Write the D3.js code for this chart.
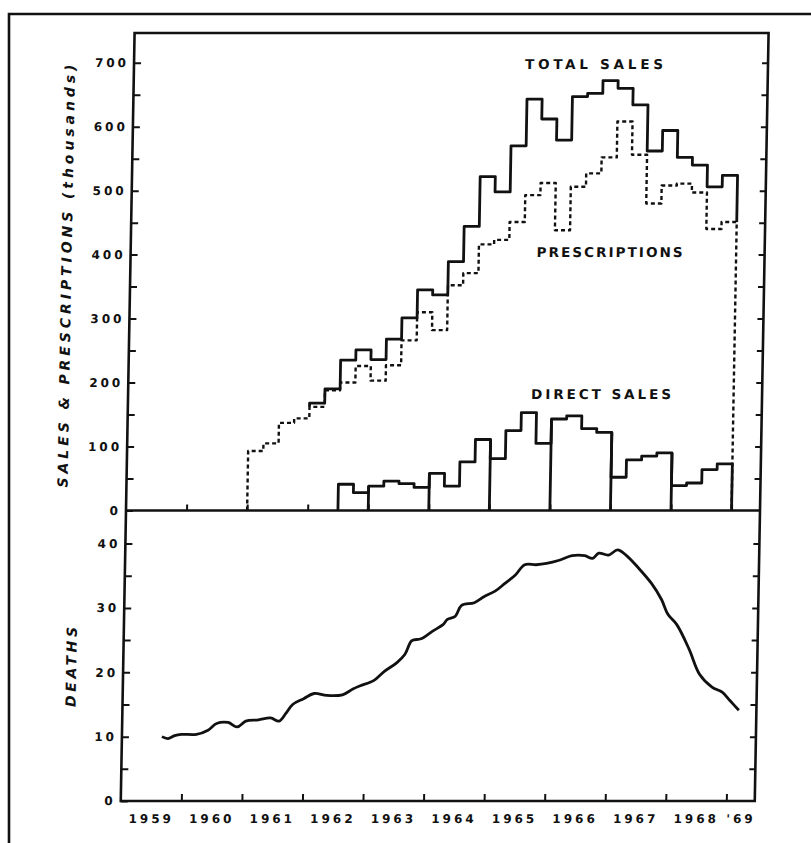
<!DOCTYPE html>
<html>
<head>
<meta charset="utf-8">
<title>Sales, prescriptions and deaths 1959-1969</title>
<script src="https://cdn.jsdelivr.net/npm/d3@7"></script>
<style>
    body {
        margin: 0;
        background: #fff;
    }

    svg {
        display: block;
    }

    text {
        font-family: 'DejaVu Sans', sans-serif;
        font-weight: bold;
        fill: #111;
    }

    .axis text {
        font-size: 12px;
        letter-spacing: 3px;
    }

    .axis line {
        stroke: #111;
        stroke-width: 2px;
    }

    .axis path {
        display: none;
    }

    .frame {
        fill: none;
        stroke: #111;
        stroke-width: 2.6px;
    }

    .line {
        fill: none;
        stroke: #111;
        stroke-width: 2.8px;
        stroke-linejoin: round;
    }

    .dashed {
        stroke-width: 2.4px;
        stroke-dasharray: 4 3;
    }

    .title {
        font-size: 14px;
        font-style: italic;
    }

    .note {
        font-size: 13.5px;
    }
</style>
</head>

<body>
<script>
    "use strict";

    // quarterly values, thousands
    const prescStart = 1961;
    const prescriptions = [93, 105, 137, 144,
        162, 188, 200, 226,
        203, 227, 266, 310,
        282, 352, 371, 416,
        423, 451, 493, 512,
        438, 506, 527, 552,
        608, 556, 480, 508,
        511, 497, 440, 451];

    const totalStart = 1962;
    const totalSales = [168, 190, 235, 251,
        236, 268, 301, 345,
        337, 389, 444, 522,
        498, 570, 643, 612,
        579, 647, 652, 672,
        660, 634, 562, 594,
        552, 540, 506, 524];

    const directStart = 1962.5;
    const directSales = [41, 28,
        38, 46, 42, 36,
        58, 38, 76, 111,
        81, 125, 153, 105,
        143, 148, 128, 122,
        52, 79, 85, 90,
        39, 43, 64, 73];
    const directDividers = [1963, 1964, 1965, 1966, 1967, 1968];

    // deaths
    const deathTimes = [1959.66, 1959.76, 1959.87, 1959.98, 1960.23, 1960.42, 1960.56, 1960.75,
        1960.90, 1961.04, 1961.25, 1961.45, 1961.59, 1961.70, 1961.81, 1961.99,
        1962.16, 1962.37, 1962.63, 1962.80, 1962.92, 1963.14, 1963.31, 1963.52,
        1963.65, 1963.76, 1963.91, 1964.10, 1964.27, 1964.34, 1964.47, 1964.57,
        1964.78, 1964.95, 1965.12, 1965.28, 1965.45, 1965.60, 1965.79, 1965.96,
        1966.17, 1966.38, 1966.59, 1966.72, 1966.82, 1966.98, 1967.13, 1967.27,
        1967.48, 1967.70, 1967.87, 1967.98, 1968.13, 1968.34, 1968.52, 1968.73,
        1968.90, 1969.03, 1969.18];
    const deathValues = [10.0, 9.7, 10.15, 10.35, 10.35, 11.0, 12.05, 12.2,
        11.5, 12.4, 12.6, 12.9, 12.4, 13.6, 15.0, 15.9,
        16.7, 16.4, 16.5, 17.4, 17.9, 18.7, 20.1, 21.5,
        22.8, 24.9, 25.2, 26.4, 27.4, 28.2, 28.7, 30.4,
        30.8, 31.8, 32.6, 33.8, 35.1, 36.7, 36.7, 36.9,
        37.4, 38.1, 38.1, 37.7, 38.5, 38.2, 39.0, 38.2,
        36.2, 33.8, 31.3, 29.0, 27.4, 23.6, 19.7, 17.7,
        16.9, 15.6, 14.1];

    const salesTicks = d3.range(0, 701, 50);
    const deathTicks = d3.range(0, 41, 5);
    const yearTicks = d3.range(1960, 1970);
    const yearLabels = ["1959", "1960", "1961", "1962", "1963", "1964", "1965", "1966", "1967", "1968", "'69"];
    const yearLabelAt = [1959.5, 1960.5, 1961.5, 1962.5, 1963.5, 1964.5, 1965.5, 1966.5, 1967.5, 1968.5, 1969.24];

    const quarter = 0.25;
    const width = 811, height = 843;
    const boxLeft = 126, boxRight = 760, boxTop = 33, boxMid = 510.5, boxBottom = 801;
    const pivot = 510;

    const svg = d3.select("body").append("svg")
        .attr("width", width)
        .attr("height", height);

    // outer sheet border
    svg.append("path")
        .attr("class", "frame")
        .attr("d", "M9," + height + "V14H" + width);

    // the scan is a little slanted, lean the whole chart the same way
    const g = svg.append("g")
        .attr("transform", "translate(0," + pivot + ") skewX(-1.03) translate(0," + (-pivot) + ")");

    const x = d3.scaleLinear().domain([1959, 1969.47]).range([boxLeft, boxRight]);
    const ySales = d3.scaleLinear().domain([0, 700]).range([boxMid, 62.7]);
    const yDeaths = d3.scaleLinear().domain([0, 40]).range([boxBottom, 543.5]);

    // box + divider
    g.append("rect")
        .attr("class", "frame")
        .attr("x", boxLeft).attr("y", boxTop)
        .attr("width", boxRight - boxLeft).attr("height", boxBottom - boxTop);
    g.append("line")
        .attr("class", "frame")
        .attr("x1", boxLeft).attr("x2", boxRight)
        .attr("y1", boxMid).attr("y2", boxMid);

    // y axes, ticks inside
    g.append("g")
        .attr("class", "axis")
        .attr("transform", "translate(" + boxLeft + ",0)")
        .call(d3.axisLeft(ySales).tickValues(salesTicks).tickSize(-7).tickPadding(5)
            .tickFormat(function (d) { return d % 100 === 0 ? d : ""; }));
    g.append("g")
        .attr("class", "axis")
        .attr("transform", "translate(" + boxRight + ",0)")
        .call(d3.axisLeft(ySales).tickValues(salesTicks.slice(1)).tickSize(6).tickFormat(""));

    g.append("g")
        .attr("class", "axis")
        .attr("transform", "translate(" + boxLeft + ",0)")
        .call(d3.axisLeft(yDeaths).tickValues(deathTicks).tickSize(-7).tickPadding(5)
            .tickFormat(function (d) { return d % 10 === 0 ? d : ""; }));
    g.append("g")
        .attr("class", "axis")
        .attr("transform", "translate(" + boxRight + ",0)")
        .call(d3.axisLeft(yDeaths).tickValues(deathTicks.slice(1)).tickSize(6).tickFormat(""));

    // x ticks on both panels
    g.append("g")
        .attr("class", "axis")
        .attr("transform", "translate(0," + boxMid + ")")
        .call(d3.axisTop(x).tickValues(yearTicks).tickSize(6).tickFormat(""));
    g.append("g")
        .attr("class", "axis")
        .attr("transform", "translate(0," + boxBottom + ")")
        .call(d3.axisTop(x).tickValues(yearTicks).tickSize(7).tickFormat(""));
    g.append("g")
        .attr("class", "axis")
        .attr("transform", "translate(0," + boxBottom + ")")
        .call(d3.axisBottom(x).tickValues(yearLabelAt).tickSize(0).tickPadding(13)
            .tickFormat(function (d, i) { return yearLabels[i]; }));

    function stepPoints(start, values) {
        var pts = values.map(function (v, i) { return [start + i * quarter, v]; });
        pts.push([start + values.length * quarter, values[values.length - 1]]);
        return pts;
    }

    var stepLine = d3.line()
        .x(function (d) { return x(d[0]); })
        .y(function (d) { return ySales(d[1]); })
        .curve(d3.curveStepAfter);

    var prescEnd = prescStart + prescriptions.length * quarter;
    var prescPts = [[prescStart, 0]].concat(stepPoints(prescStart, prescriptions), [[prescEnd, 0]]);
    g.append("path")
        .datum(prescPts)
        .attr("class", "line dashed")
        .attr("d", stepLine);

    var directEnd = directStart + directSales.length * quarter;
    var directPts = [[directStart, 0]].concat(stepPoints(directStart, directSales), [[directEnd, 0]]);
    g.append("path")
        .datum(directPts)
        .attr("class", "line")
        .attr("d", stepLine);

    g.selectAll(".divider")
        .data(directDividers)
        .enter().append("line")
        .attr("class", "line divider")
        .attr("x1", function (d) { return x(d); })
        .attr("x2", function (d) { return x(d); })
        .attr("y1", ySales(0))
        .attr("y2", function (d) {
            var i = Math.round((d - directStart) / quarter);
            return ySales(Math.max(directSales[i - 1], directSales[i]));
        });

    var firstPresc = prescriptions[Math.round((totalStart - prescStart) / quarter)];
    var totalEnd = totalStart + totalSales.length * quarter;
    var totalPts = [[totalStart, firstPresc]].concat(stepPoints(totalStart, totalSales),
        [[totalEnd, prescriptions[prescriptions.length - 1]]]);
    g.append("path")
        .datum(totalPts)
        .attr("class", "line")
        .attr("d", stepLine);

    // deaths
    var deathLine = d3.line()
        .x(function (d, i) { return x(deathTimes[i]); })
        .y(function (d) { return yDeaths(d); })
        .curve(d3.curveCatmullRom);
    g.append("path")
        .datum(deathValues)
        .attr("class", "line")
        .attr("d", deathLine);

    // notes
    g.append("text").attr("class", "note")
        .attr("x", 586).attr("y", 69.5)
        .attr("text-anchor", "middle")
        .attr("textLength", 138).attr("lengthAdjust", "spacing")
        .text("TOTAL SALES");
    g.append("text").attr("class", "note")
        .attr("x", 605).attr("y", 257)
        .attr("text-anchor", "middle")
        .attr("textLength", 146).attr("lengthAdjust", "spacing")
        .text("PRESCRIPTIONS");
    g.append("text").attr("class", "note")
        .attr("x", 599).attr("y", 399)
        .attr("text-anchor", "middle")
        .attr("textLength", 140).attr("lengthAdjust", "spacing")
        .text("DIRECT SALES");

    // axis titles
    g.append("text").attr("class", "title")
        .attr("transform", "translate(67,276) rotate(-90)")
        .attr("text-anchor", "middle")
        .attr("textLength", 423).attr("lengthAdjust", "spacing")
        .text("SALES & PRESCRIPTIONS (thousands)");
    g.append("text").attr("class", "title")
        .attr("transform", "translate(79,667) rotate(-90)")
        .attr("text-anchor", "middle")
        .attr("textLength", 80).attr("lengthAdjust", "spacing")
        .text("DEATHS");
</script>
</body>
</html>
